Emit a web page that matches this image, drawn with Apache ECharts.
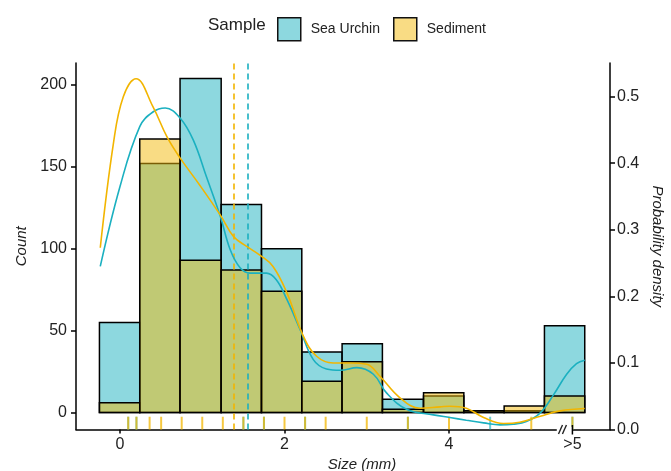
<!DOCTYPE html>
<html><head><meta charset="utf-8">
<script src="https://cdn.jsdelivr.net/npm/echarts@6/dist/echarts.min.js"></script>
<style>html,body{margin:0;padding:0;background:#fff}#c{width:671px;height:471px}</style>
</head><body><div id="c"></div>
<script>
// ---- data ----
const seriesNames = ['Sea Urchin', 'Sediment'];
const binEdges = [-0.25, 0.24, 0.73, 1.23, 1.72, 2.21, 2.70, 3.19, 3.69, 4.18, 4.67, 5.16, 5.65];
const urchinCounts = [55, 152, 204, 127, 100, 37, 42, 8, 10, 1, 1, 53];
const sedimentCounts = [6, 167, 93, 87, 74, 19, 31, 2, 12, 1, 4, 10];

const urchinDensityX = [-0.24, 0.0, 0.24, 0.40, 0.55, 0.73, 0.89, 1.05, 1.22, 1.34, 1.46, 1.58, 1.78, 1.90, 2.03, 2.19, 2.35, 2.51, 2.68, 2.88, 3.08, 3.24, 3.49, 3.81, 4.01, 4.21, 4.42, 4.62, 4.78, 4.94, 5.11, 5.27, 5.43, 5.55, 5.65];
const urchinDensity  = [0.245, 0.365, 0.455, 0.477, 0.483, 0.468, 0.435, 0.38, 0.32, 0.27, 0.243, 0.235, 0.235, 0.225, 0.195, 0.15, 0.105, 0.091, 0.089, 0.093, 0.083, 0.055, 0.03, 0.022, 0.018, 0.014, 0.010, 0.007, 0.008, 0.012, 0.025, 0.052, 0.083, 0.099, 0.104];
const sedimentDensityX = [-0.24, -0.08, 0.04, 0.195, 0.40, 0.57, 0.73, 0.97, 1.22, 1.38, 1.54, 1.70, 1.86, 2.03, 2.23, 2.39, 2.59, 2.80, 3.00, 3.16, 3.40, 3.65, 3.89, 4.01, 4.21, 4.42, 4.66, 4.86, 5.11, 5.35, 5.65];
const sedimentDensity  = [0.273, 0.43, 0.50, 0.527, 0.485, 0.44, 0.408, 0.367, 0.322, 0.29, 0.275, 0.262, 0.245, 0.205, 0.14, 0.11, 0.10, 0.10, 0.098, 0.08, 0.048, 0.032, 0.034, 0.035, 0.032, 0.018, 0.009, 0.011, 0.02, 0.028, 0.0315];

const urchinMean = 1.55;
const sedimentMean = 1.38;

const urchinRug = [0.1, 0.2, 1.5, 1.75, 2.25, 3.5, 4.5, 5.5];
const sedimentRug = [0.1, 0.2, 0.36, 0.5, 0.75, 1.0, 1.25, 1.5, 1.75, 2.0, 2.25, 2.5, 3.0, 3.5, 4.0, 5.0, 5.5];

const xTickValues = [0, 2, 4];
const xLabelValues = [0, 2, 4, 5.5];
const xLabelTexts = ['0', '2', '4', '>5'];
const countTicks = [0, 50, 100, 150, 200];
const densityTicks = [0, 0.1, 0.2, 0.3, 0.4, 0.5];
const breakAt = 5.5;

// ---- styling ----
const FONT = 'Liberation Sans, Arial, sans-serif';
const cyanLine = '#1BB0C0';
const goldLine = '#F2B500';
const cyanFill = 'rgba(27,177,191,0.5)';
const goldFill = 'rgba(244,185,10,0.5)';
const X_MIN = -0.535, X_MAX = 5.957;
const C_MIN = -10.4, C_MAX = 213.4;
const D_MAX = 0.5506;
const RUG_TOP = -2.6;

function histSeries(name, counts, fill, z) {
  return {
    name, type: 'custom', xAxisIndex: 0, yAxisIndex: 0, z,
    itemStyle: { color: fill, borderColor: '#000', borderWidth: 1.5 },
    encode: { x: [0, 1], y: 2 },
    data: counts.map((c, i) => [binEdges[i], binEdges[i + 1], c]),
    renderItem(params, api) {
      const a = api.coord([api.value(0), api.value(2)]);
      const b = api.coord([api.value(1), 0]);
      return { type: 'rect', shape: { x: a[0], y: a[1], width: b[0] - a[0], height: b[1] - a[1] },
        style: { fill, stroke: '#000', lineWidth: 1.5 } };
    }
  };
}
function rugSeries(name, vals, color, z) {
  return {
    name, type: 'custom', xAxisIndex: 0, yAxisIndex: 0, z, clip: false,
    encode: { x: 0 }, data: vals.map(v => [v]),
    renderItem(params, api) {
      const a = api.coord([api.value(0), C_MIN]);
      const b = api.coord([api.value(0), RUG_TOP]);
      return { type: 'line', shape: { x1: a[0], y1: a[1], x2: b[0], y2: b[1] }, style: { stroke: color, lineWidth: 2 } };
    }
  };
}
function densitySeries(name, xs, ds, color, mean) {
  return {
    name, type: 'line', xAxisIndex: 0, yAxisIndex: 1, z: 5,
    smooth: 0.4, showSymbol: false, symbol: 'none',
    lineStyle: { color, width: 1.6 }, itemStyle: { color },
    data: xs.map((x, i) => [x, ds[i]]),
    markLine: {
      silent: true, symbol: 'none', label: { show: false },
      lineStyle: { color, type: [6, 4], width: 1.6 },
      data: [{ xAxis: mean }]
    }
  };
}

const chart = echarts.init(document.getElementById('c'));
chart.setOption({
  backgroundColor: '#fff',
  animation: false,
  textStyle: { fontFamily: FONT },
  title: { text: 'Sample', left: 203, top: 12, textStyle: { fontSize: 17, fontWeight: 'normal', color: '#222', fontFamily: FONT } },
  legend: {
    data: seriesNames, left: 272, top: 12, itemWidth: 23, itemHeight: 23, itemGap: 13,
    icon: 'rect',
    itemStyle: { borderColor: '#111', borderWidth: 1.5 },
    textStyle: { fontSize: 14, color: '#222', padding: [0, 0, 0, 5], fontFamily: FONT }
  },
  grid: { left: 76, right: 61, top: 63, bottom: 41.5, containLabel: false, outerBoundsMode: 'none' },
  xAxis: {
    type: 'value', min: X_MIN, max: X_MAX,
    name: 'Size (mm)', nameLocation: 'middle', nameGap: 26,
    nameTextStyle: { fontStyle: 'italic', fontSize: 15, color: '#222', padding: [0, 0, 0, 38] },
    axisLine: { show: true, onZero: false, lineStyle: { color: '#000', width: 1.5 } },
    axisTick: { show: true, customValues: xTickValues, length: 4, lineStyle: { color: '#000', width: 1.5 } },
    axisLabel: { customValues: xLabelValues, fontSize: 16, color: '#222', margin: 7,
      formatter: v => xLabelTexts[xLabelValues.indexOf(v)] },
    splitLine: { show: false }
  },
  yAxis: [{
    type: 'value', min: C_MIN, max: C_MAX, position: 'left',
    name: 'Count', nameLocation: 'middle', nameGap: 40,
    nameTextStyle: { fontStyle: 'italic', fontSize: 15, color: '#222' },
    axisLine: { show: true, onZero: false, lineStyle: { color: '#000', width: 1.5 } },
    axisTick: { show: true, customValues: countTicks, length: 5, lineStyle: { color: '#000', width: 1.5 } },
    axisLabel: { customValues: countTicks, fontSize: 16, color: '#222', margin: 9 },
    splitLine: { show: false }
  }, {
    type: 'value', min: 0, max: D_MAX, position: 'right',
    name: 'Probability density', nameLocation: 'middle', nameGap: 29, nameRotate: -90,
    nameTextStyle: { fontStyle: 'italic', fontSize: 15, color: '#222' },
    axisLine: { show: true, onZero: false, lineStyle: { color: '#000', width: 1.5 } },
    axisTick: { show: true, customValues: densityTicks, length: 5, lineStyle: { color: '#000', width: 1.5 } },
    axisLabel: { customValues: densityTicks, fontSize: 16, color: '#222', margin: 7, formatter: v => v.toFixed(1) },
    splitLine: { show: false }
  }],
  series: [
    histSeries(seriesNames[0], urchinCounts, cyanFill, 2),
    histSeries(seriesNames[1], sedimentCounts, goldFill, 3),
    rugSeries(seriesNames[0], urchinRug, 'rgba(27,177,191,0.65)', 3),
    rugSeries(seriesNames[1], sedimentRug, 'rgba(242,181,0,0.75)', 4),
    densitySeries(seriesNames[0], urchinDensityX, urchinDensity, cyanLine, urchinMean),
    densitySeries(seriesNames[1], sedimentDensityX, sedimentDensity, goldLine, sedimentMean),
    {
      type: 'custom', xAxisIndex: 0, yAxisIndex: 0, z: 6, clip: false, silent: true,
      encode: { x: 0 }, data: [[breakAt]],
      renderItem(params, api) {
        const p = api.coord([api.value(0), C_MIN]);
        const g = api.coord([api.value(0) - 0.19, C_MIN]);
        const s1 = api.coord([api.value(0) - 0.145, C_MIN]);
        const s2 = api.coord([api.value(0) - 0.097, C_MIN]);
        return { type: 'group', children: [
          { type: 'rect', shape: { x: g[0], y: p[1] - 2.5, width: p[0] - g[0], height: 5 }, style: { fill: '#fff' } },
          { type: 'line', shape: { x1: s1[0] - 2, y1: p[1] + 4.5, x2: s1[0] + 2, y2: p[1] - 4.5 }, style: { stroke: '#222', lineWidth: 1.4 } },
          { type: 'line', shape: { x1: s2[0] - 2, y1: p[1] + 4.5, x2: s2[0] + 2, y2: p[1] - 4.5 }, style: { stroke: '#222', lineWidth: 1.4 } },
          { type: 'line', shape: { x1: p[0], y1: p[1] - 4.5, x2: p[0], y2: p[1] + 5 }, style: { stroke: '#000', lineWidth: 1.5 } }
        ] };
      }
    }
  ]
});
</script></body></html>
